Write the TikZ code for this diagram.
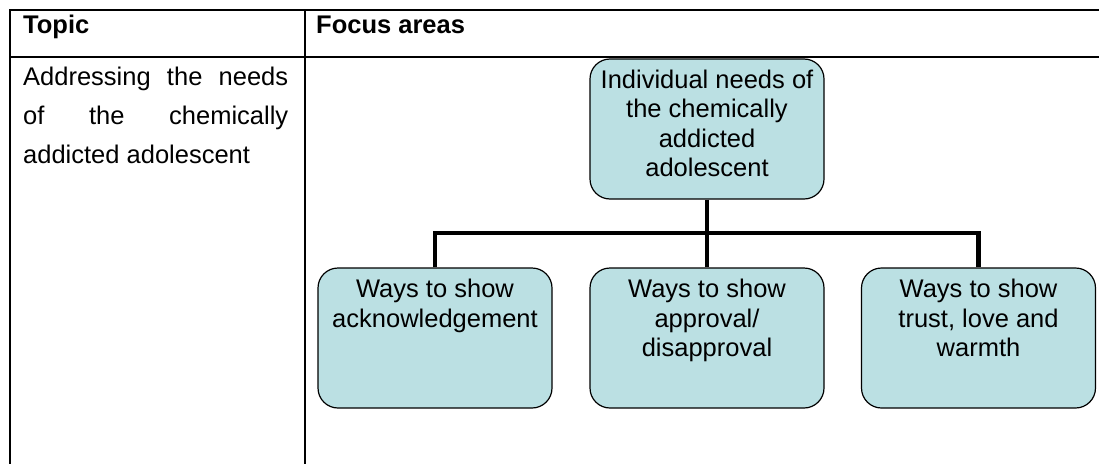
\documentclass[tikz,border=0pt]{standalone}
\usepackage{fontspec}
\setmainfont{Liberation Sans}
\definecolor{boxfill}{HTML}{BBE0E3}
\begin{document}
\begin{tikzpicture}[x=1pt,y=-1pt,
  rule/.style={line width=2pt,line cap=rect},
  sbox/.style={draw=black,fill=boxfill,line width=1.2pt,rounded corners=20pt,
    minimum width=234pt,minimum height=140pt,inner sep=0pt},
  btext/.style={align=center,inner sep=0pt,anchor=north,
    font=\fontsize{25.5}{29.5}\selectfont},
  ttext/.style={inner sep=0pt,anchor=base west,font=\fontsize{25.5}{30}\selectfont},
  conn/.style={line width=4.5pt}]
\useasboundingbox (0,0) rectangle (1099,463);
% table rules
\coordinate (tl) at (10,10);
\coordinate (tr) at (1099,10);
\coordinate (hl) at (10,57);
\coordinate (hr) at (1099,57);
\coordinate (bl) at (10,463);
\coordinate (dt) at (305,10);
\coordinate (db) at (305,463);
\draw[rule] (tl) -- (tr);
\draw[rule] (hl) -- (hr);
\draw[rule] (tl) -- (bl);
\draw[rule] (dt) -- (db);
% header texts
\node[ttext,font=\fontsize{25.5}{30}\selectfont\bfseries] (topic) at (23,33) {Topic};
\node[ttext,font=\fontsize{25.5}{30}\selectfont\bfseries] (focus) at (316,33) {Focus areas};
% left column text
\node[ttext] (l1) at (23,85) {\makebox[265pt][s]{Addressing the needs}};
\node[ttext] (l2) at (23,124) {\makebox[265pt][s]{of the chemically}};
\node[ttext] (l3) at (23,163) {addicted adolescent};
% boxes
\node[sbox] (top) at (707,129) {};
\node[sbox] (b1) at (435,338) {};
\node[sbox] (b2) at (707,338) {};
\node[sbox] (b3) at (978.5,338) {};
\node[btext] (ttop) at (707,69.5) {Individual needs of\\the chemically\\addicted\\adolescent};
\node[btext] (tb1) at (435,279) {Ways to show\\acknowledgement};
\node[btext] (tb2) at (707,279) {Ways to show\\approval/\\disapproval};
\node[btext] (tb3) at (978.5,279) {Ways to show\\trust, love and\\warmth};
% connectors
\coordinate (bus) at (707,233);
\draw[conn] (top.south) -- (bus);
\draw[conn] (b1.north) |- (bus);
\draw[conn] (b3.north) |- (bus);
\draw[conn] (b2.north) -- (bus);
\end{tikzpicture}
\end{document}
